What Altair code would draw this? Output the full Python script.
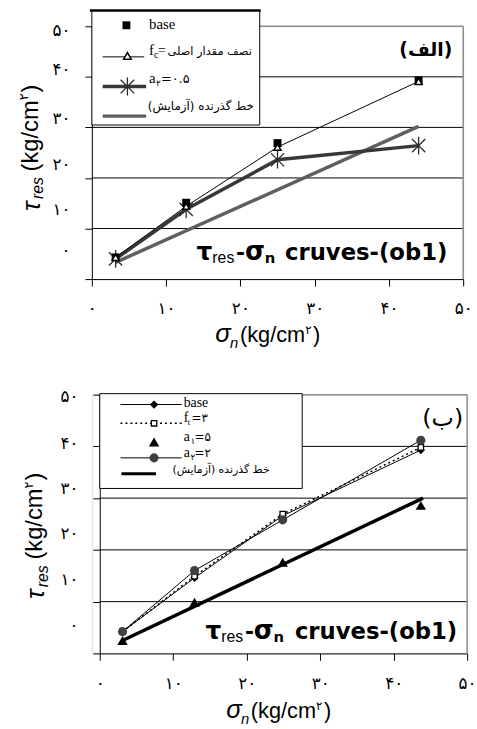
import altair as alt
import pandas as pd

# ---------------- data ----------------
tick_values = [0, 10, 20, 30, 40, 50]
tick_labels = ['۰', '۱۰', '۲۰', '۳۰', '۴۰', '۵۰']
grid_values = [10, 20, 30, 40]

# panel (الف)
top_x = [3.2, 12.7, 25.0, 44.0]
top_base = [4.3, 15.1, 26.9, 39.3]
top_fc = [4.3, 14.4, 26.1, 39.1]
top_a2 = [4.0, 13.8, 23.6, 26.4]
top_test_x = [3.2, 44.0]
top_test_y = [3.3, 30.2]

# panel (ب)
bot_x = [3.1, 12.9, 24.9, 43.7]
bot_base = [4.2, 14.6, 26.6, 39.3]
bot_ft = [4.2, 14.9, 26.9, 39.8]
bot_a1 = [2.5, 9.9, 17.6, 28.6]
bot_a2 = [4.2, 16.0, 25.8, 41.2]
bot_test_x = [3.1, 44.0]
bot_test_y = [2.5, 30.0]

legend_test = 'خط گذرنده (آزمایش)'
legend_fc = 'نصف مقدار اصلی'
panel_labels = ['(الف)', '(ب)']
RLM = '\u200f'

# ---------------- helpers ----------------
STAR = 'M0,-1L0,1M-0.75,-0.75L0.75,0.75M-0.75,0.75L0.75,-0.75'
FRAME = '#8c8c8c'
dummy = pd.DataFrame({'k': [0]})

lab_expr = ''.join(f"datum.value == {v} ? '{l}' : " for v, l in zip(tick_values, tick_labels)) + "''"


def off_expr(offs):
    return ''.join(f"datum.value == {v} ? {o} : " for v, o in zip(tick_values, offs)) + "0"


def enc(offs, xrange=None, yoffset=0, xpad=15):
    xs = dict(domain=[0, 50], nice=False, zero=False)
    if xrange:
        xs['range'] = xrange
    X = alt.X('x:Q', scale=alt.Scale(**xs),
              axis=alt.Axis(values=tick_values, labelExpr=lab_expr, title=None, grid=False,
                            tickSize=7, labelPadding=xpad, labelFontSize=17, labelFont='DejaVu Sans',
                            labelColor='black', domainColor='black', tickColor='black',
                            labelFlush=False, labelOverlap=False))
    Y = alt.Y('y:Q', scale=alt.Scale(domain=[0, 50], nice=False, zero=False),
              axis=alt.Axis(values=tick_values, labelExpr=lab_expr, title=None, grid=False,
                            tickSize=7, labelPadding=15, labelFontSize=17, labelFont='DejaVu Sans',
                            labelColor='black', domainColor='black', tickColor='black',
                            labelOverlap=False, offset=yoffset,
                            labelOffset=alt.ExprRef(off_expr(offs))))
    return X, Y


def df(xs, ys):
    return pd.DataFrame({'x': xs, 'y': ys})


def txt(s, x, y, size, font='Liberation Sans', style='normal', weight='normal',
        align='left', angle=0, color='black'):
    return alt.Chart(pd.DataFrame({'t': [s]})).mark_text(
        x=x, y=y, fontSize=size, font=font, fontStyle=style, fontWeight=weight,
        align=align, baseline='alphabetic', angle=angle, color=color).encode(text='t:N')


def hline(x1, x2, y, color, width, dash=None):
    kw = dict(color=color, strokeWidth=width)
    if dash:
        kw['strokeDash'] = dash
    return alt.Chart(dummy).mark_rule(**kw).encode(
        x=alt.value(x1), x2=alt.value(x2), y=alt.value(y))


def vline(x, y1, y2, color, width):
    return alt.Chart(dummy).mark_rule(color=color, strokeWidth=width).encode(
        x=alt.value(x), y=alt.value(y1), y2=alt.value(y2))


def anchor(x):
    # invisible marker fixing the panel's left extent
    return alt.Chart(dummy).mark_rule(opacity=0, strokeWidth=0.1).encode(
        x=alt.value(x), x2=alt.value(x + 1), y=alt.value(100))


def sym(x, y, **kw):
    return alt.Chart(dummy).mark_point(opacity=1, **kw).encode(x=alt.value(x), y=alt.value(y))


def box(x1, x2, y1, y2):
    return alt.Chart(dummy).mark_rect(fill='white', stroke='black', strokeWidth=1).encode(
        x=alt.value(x1), x2=alt.value(x2), y=alt.value(y1), y2=alt.value(y2))


def ytitle(xb, yb):
    # rotated title: tau_res (kg/cm2)
    return [
        txt('τ', xb + 2, yb, 26, style='italic', angle=270),
        txt('res', xb + 6, yb - 12, 16, style='italic', angle=270),
        txt('(kg/cm', xb, yb - 40, 24, angle=270),
        txt('۲', xb - 10, yb - 112, 13, font='DejaVu Sans', angle=270),
        txt(')', xb, yb - 120, 24, angle=270),
    ]


def xtitle(x0, yb):
    return [
        txt('σ', x0, yb, 26, style='italic'),
        txt('n', x0 + 15, yb + 6, 15, style='italic'),
        txt('(kg/cm', x0 + 25, yb, 22),
        txt('۲', x0 + 91, yb - 8, 12, font='DejaVu Sans'),
        txt(')', x0 + 99, yb, 22),
    ]


def ptitle(x0, xr, yb):
    return [
        txt('τ', x0, yb, 25, font='DejaVu Sans', weight='bold'),
        txt('res', x0 + 16, yb + 3, 16),
        txt('-', x0 + 40, yb, 22, font='DejaVu Sans', weight='bold'),
        txt('σ', x0 + 49, yb, 26, font='DejaVu Sans', weight='bold'),
        txt('n', x0 + 69, yb + 3, 15, font='DejaVu Sans', weight='bold'),
        txt('cruves-(ob1)', xr, yb, 23, font='DejaVu Sans', weight='bold', align='right'),
    ]


grid_df = pd.DataFrame({'y': grid_values})

# ---------------- panel (الف) ----------------
X, Y = enc([-29, -19, -14, -9, -7, 4])
W1, H1 = 376, 256
top_layers = [
    anchor(-80),
    alt.Chart(grid_df).mark_rule(color='black', strokeWidth=1).encode(y=Y),
    hline(0, W1, 0, FRAME, 1.5),
    vline(W1, 0, H1, FRAME, 1.5),
    alt.Chart(df(top_test_x, top_test_y)).mark_line(color='#5f5f5f', strokeWidth=3.5).encode(x=X, y=Y),
    alt.Chart(df(top_x, top_a2)).mark_line(color='#383838', strokeWidth=3.5).encode(x=X, y=Y),
    alt.Chart(df(top_x, top_fc)).mark_line(color='black', strokeWidth=1).encode(x=X, y=Y),
    alt.Chart(df(top_x, top_a2)).mark_point(shape=STAR, size=320, filled=False, color='#2a2a2a',
                                             strokeWidth=1.3, opacity=1).encode(x=X, y=Y),
    alt.Chart(df(top_x, top_base)).mark_point(shape='square', size=64, filled=True, color='black',
                                               opacity=1).encode(x=X, y=Y),
    alt.Chart(df(top_x, top_fc)).mark_point(shape='triangle-up', size=50, filled=True, fill='white',
                                             stroke='black', strokeWidth=1.5, opacity=1).encode(x=X, y=Y),
    # legend
    box(0, 170, -16, 100),
    hline(-2, 171, -16, 'black', 2.5),
    sym(35, -1, shape='square', size=64, filled=True, color='black'),
    txt('base', 58, 3, 15, font='Liberation Serif'),
    hline(11, 53, 31, 'black', 1),
    sym(36, 30, shape='triangle-up', size=60, filled=True, fill='white', stroke='black', strokeWidth=1.5),
    txt('f', 58, 29, 15, font='Liberation Serif'),
    txt('c', 63, 32, 10, font='Liberation Serif'),
    txt('=', 67, 29, 14, font='Liberation Serif'),
    txt(legend_fc + RLM, 162, 29, 11.5, font='DejaVu Sans', align='right'),
    hline(11, 55, 61, '#383838', 3.5),
    sym(36, 61, shape=STAR, size=340, filled=False, color='#2a2a2a', strokeWidth=1.3),
    txt('a', 58, 57, 15, font='Liberation Serif'),
    txt('۲', 65, 60, 9, font='DejaVu Sans'),
    txt('=۰.۵', 70, 57, 13, font='DejaVu Sans'),
    txt(legend_test + RLM, 164, 85, 12, font='DejaVu Sans', align='right'),
    hline(11, 55, 91, '#5f5f5f', 3.5),
    # labels
    txt(panel_labels[0], 365, 30, 19, font='DejaVu Sans', weight='bold', align='right'),
] + ptitle(106, 360, 237) + ytitle(-55, 187) + xtitle(125, 320)

top = alt.layer(*top_layers).properties(width=W1, height=H1)

# ---------------- panel (ب) ----------------
# this panel's axis sits 8 px right of the upper one: plot box 380 wide, data range starts at 8
D = 8
W2, H2 = 372 + D, 262
X, Y = enc([-28, -22, -17, -10, -3, 2], xrange=[D, W2], yoffset=-D, xpad=16)
bot_layers = [
    alt.Chart(grid_df).mark_rule(color='black', strokeWidth=1).encode(
        y=Y, x=alt.value(D), x2=alt.value(W2)),
    hline(D, W2, 0, FRAME, 1.5),
    vline(W2, 0, H2, FRAME, 1.5),
    alt.Chart(df(bot_test_x, bot_test_y)).mark_line(color='black', strokeWidth=3.5).encode(x=X, y=Y),
    alt.Chart(df(bot_x, bot_base)).mark_line(color='black', strokeWidth=1).encode(x=X, y=Y),
    alt.Chart(df(bot_x, bot_a2)).mark_line(color='black', strokeWidth=1).encode(x=X, y=Y),
    alt.Chart(df(bot_x, bot_ft)).mark_line(color='black', strokeWidth=1.5, strokeDash=[2, 3]).encode(x=X, y=Y),
    alt.Chart(df(bot_x, bot_base)).mark_point(shape='diamond', size=70, filled=True, color='black',
                                               opacity=1).encode(x=X, y=Y),
    alt.Chart(df(bot_x, bot_ft)).mark_point(shape='square', size=30, filled=True, fill='white',
                                             stroke='black', strokeWidth=1.3, opacity=1).encode(x=X, y=Y),
    alt.Chart(df(bot_x, bot_a1)).mark_point(shape='triangle-up', size=110, filled=True, color='black',
                                             opacity=1).encode(x=X, y=Y),
    alt.Chart(df(bot_x, bot_a2)).mark_point(shape='circle', size=85, filled=True, color='#404040',
                                             opacity=1).encode(x=X, y=Y),
    # legend
    box(D + 0, D + 205, -1, 95),
    hline(D + 21, D + 83, 10, 'black', 1),
    sym(D + 55, 10, shape='diamond', size=70, filled=True, color='black'),
    txt('base', D + 85, 13, 14, font='Liberation Serif'),
    hline(D + 21, D + 83, 29, 'black', 1.5, [2, 3]),
    sym(D + 55, 29, shape='square', size=30, filled=True, fill='white', stroke='black', strokeWidth=1.3),
    txt('f', D + 85, 28, 14, font='Liberation Serif'),
    txt('t', D + 89, 31, 9, font='Liberation Serif'),
    txt('=۳', D + 93, 28, 12, font='DejaVu Sans'),
    sym(D + 55, 48, shape='triangle-up', size=110, filled=True, color='black'),
    txt('a', D + 85, 47, 14, font='Liberation Serif'),
    txt('۱', D + 92, 50, 9, font='DejaVu Sans'),
    txt('=۵', D + 96, 47, 12, font='DejaVu Sans'),
    hline(D + 21, D + 83, 64, 'black', 1),
    sym(D + 55, 64, shape='circle', size=85, filled=True, color='#404040'),
    txt('a', D + 85, 63, 14, font='Liberation Serif'),
    txt('۲', D + 92, 66, 9, font='DejaVu Sans'),
    txt('=۲', D + 96, 63, 12, font='DejaVu Sans'),
    txt(legend_test + RLM, D + 172, 79, 11, font='DejaVu Sans', align='right'),
    hline(D + 22, D + 57, 80, 'black', 3),
    txt(panel_labels[1], D + 368, 32, 24, font='DejaVu Sans', align='right'),
] + ptitle(D + 107, D + 362, 247) + ytitle(D - 58, 207) + xtitle(D + 128, 327)

bottom = alt.layer(*bot_layers).properties(width=W2, height=H2)

chart = alt.vconcat(top, bottom, spacing=35).properties(
    padding={'left': 12, 'top': 4, 'right': 0, 'bottom': 0}
).configure_view(stroke='transparent').configure(background='white')

chart.save('out.html', embed_options={'renderer': 'svg', 'actions': False})
